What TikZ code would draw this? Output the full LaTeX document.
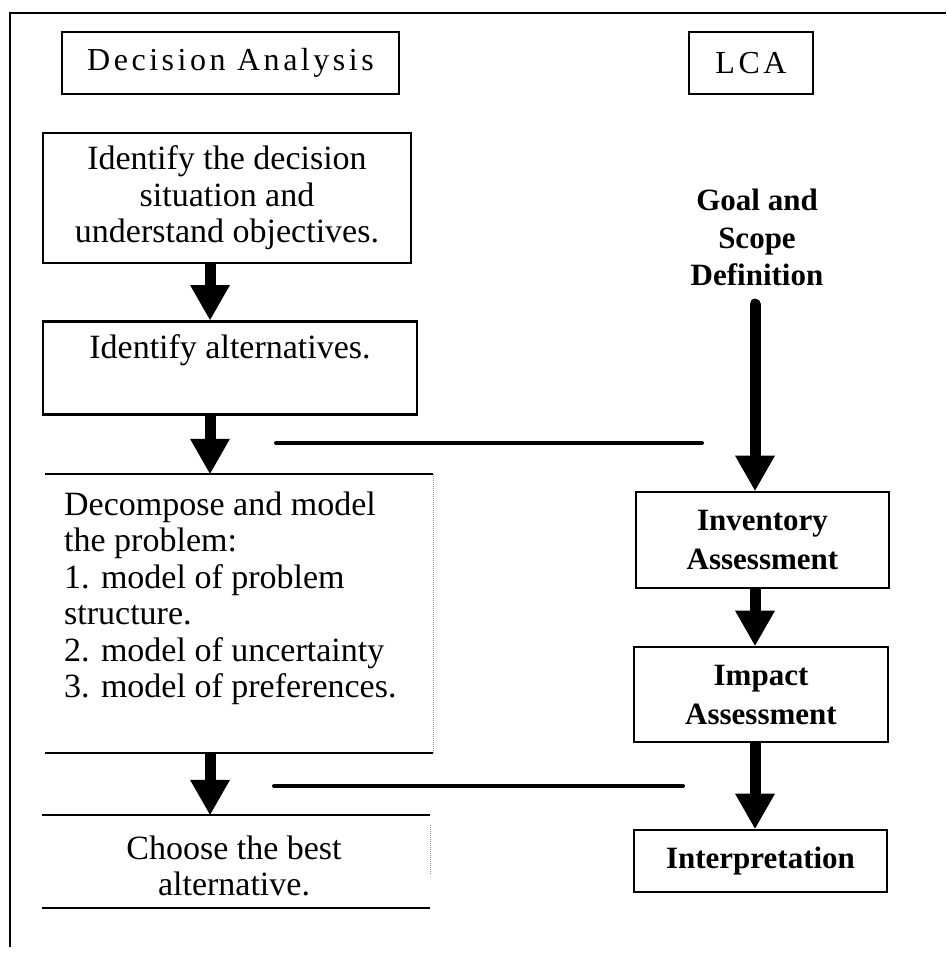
\documentclass[tikz,border=0pt]{standalone}
\usepackage{fontspec}
\setmainfont{Liberation Serif}
\usetikzlibrary{arrows.meta,calc}

% type sizes for the two columns and the headings
\newcommand\steptext{\fontsize{34}{36.5}\selectfont}
\newcommand\goaltext{\fontsize{31}{37.5}\selectfont\bfseries}
\newcommand\lcatext{\fontsize{31}{39}\selectfont\bfseries}
\newcommand\headtext{\fontsize{32}{38}\selectfont\addfontfeature{LetterSpace=11}}

\tikzset{
  frameline/.style={line width=2.4pt},
  headbox/.style={draw, line width=2.6pt, inner sep=0pt, font=\headtext},
  stepbox/.style={draw, line width=2.8pt, inner sep=0pt, align=center, font=\steptext},
  openbox/.style={inner sep=0pt},
  openedge/.style={line width=2pt},
  faintedge/.style={line width=1pt, densely dotted, black!45},
  lcabox/.style={draw, line width=2.8pt, inner sep=0pt, align=center, font=\lcatext},
  bigarrow/.style={line width=11pt, -{Triangle[width=40pt,length=35pt,line width=0pt]}},
  linkline/.style={line width=4pt, line cap=round},
}

\begin{document}
\begin{tikzpicture}[x=1pt,y=-1pt]
\useasboundingbox (0,0) rectangle (946,969);

% outer frame (top and left edges)
\draw[frameline] (946,13) -- (10,13) -- (10,947);

% column headings
\node[headbox, minimum width=337pt, minimum height=62pt] (dahead) at (230.5,63) {Decision Analysis};
\node[headbox, minimum width=124pt, minimum height=62pt] (lcahead) at (751,63) {LCA};

% decision analysis steps
\node[stepbox, minimum width=368pt, minimum height=130pt] (ident) at (227,198)
  {Identify the decision\\situation and\\understand objectives.};
\node[stepbox, anchor=north, minimum width=374pt, text height=37pt, text depth=56pt] (alt) at (230,320)
  {Identify alternatives.};

\node[openbox, minimum width=388pt, minimum height=279pt] (dec) at (239,613.5) {};
\node[openbox, anchor=north west, align=left, font=\steptext] (dectext) at (64,491.5)
  {Decompose and model\\the problem:\\1. model of problem\\structure.\\2. model of uncertainty\\3. model of preferences.};
\draw[openedge] (dec.north west) -- (dec.north east);
\draw[openedge] (dec.south west) -- (dec.south east);
\draw[faintedge] (dec.north east) -- (dec.south east);

\node[openbox, minimum width=388pt, minimum height=93pt] (best) at (236,861.5) {};
\node[openbox, align=center, font=\steptext] (besttext) at (234,866)
  {Choose the best\\alternative.};
\draw[openedge] (best.north west) -- (best.north east);
\draw[openedge] (best.south west) -- (best.south east);
\draw[faintedge] ([yshift=-10pt]best.north east) -- ([yshift=35pt]best.south east);

% LCA phases
\node[align=center, font=\goaltext, inner sep=0pt] (goal) at (757,237.5)
  {Goal and\\Scope\\Definition};
\node[lcabox, minimum width=253pt, minimum height=96pt] (inv) at (762.5,540)
  {Inventory\\Assessment};
\node[lcabox, minimum width=254pt, minimum height=95pt] (imp) at (761,694.5)
  {Impact\\Assessment};
\node[lcabox, minimum width=253pt, minimum height=62pt] (interp) at (760.5,861)
  {Interpretation};

% flow arrows
\coordinate (lcol) at (210,0);
\coordinate (rcol) at (755,0);
\draw[bigarrow] (ident.south -| lcol) -- (alt.north -| lcol);
\draw[bigarrow] (alt.south -| lcol) -- (dec.north -| lcol);
\draw[bigarrow] (dec.south -| lcol) -- (best.north -| lcol);
\draw[bigarrow, line cap=round] ([yshift=-18pt]goal.south -| rcol) -- (inv.north -| rcol);
\draw[bigarrow] (inv.south -| rcol) -- (imp.north -| rcol);
\draw[bigarrow] (imp.south -| rcol) -- (interp.north -| rcol);

% links between the two procedures
\coordinate (linkAa) at (276,443);
\coordinate (linkAb) at (702,443);
\coordinate (linkBa) at (274,786);
\coordinate (linkBb) at (683,786);
\draw[linkline] (linkAa) -- (linkAb);
\draw[linkline] (linkBa) -- (linkBb);
\end{tikzpicture}
\end{document}
